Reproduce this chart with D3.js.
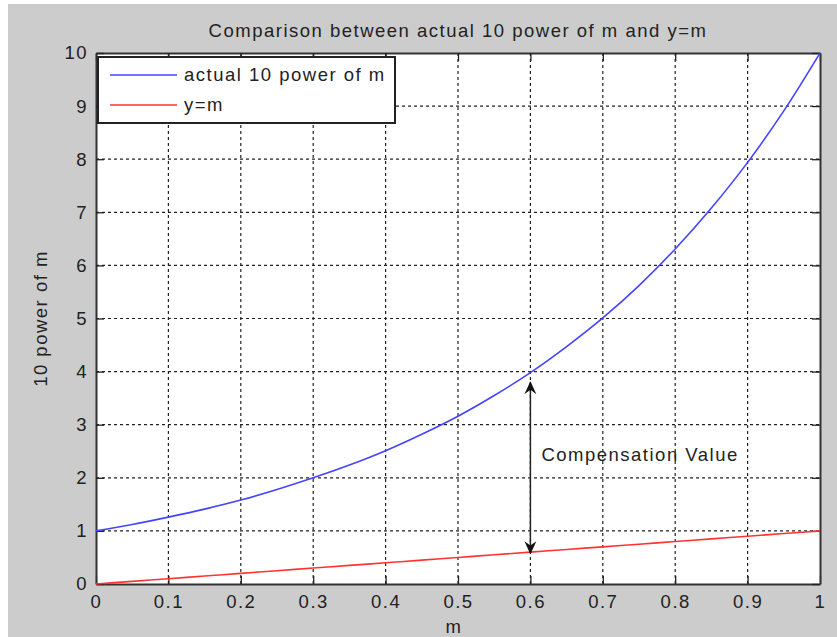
<!DOCTYPE html>
<html>
<head>
<meta charset="utf-8">
<script src="https://cdn.jsdelivr.net/npm/d3@7"></script>
<style>
  body { margin: 0; background: #fff; }
  svg text { font-family: "Liberation Sans", Arial, sans-serif; fill: #222; letter-spacing: 1.5px; }
</style>
</head>
<body>
<div id="chart"></div>
<script>
// values
var mValues = [0, 0.05, 0.1, 0.15, 0.2, 0.25, 0.3, 0.35, 0.4, 0.45, 0.5,
               0.55, 0.6, 0.65, 0.7, 0.75, 0.8, 0.85, 0.9, 0.95, 1.0];
var powerValues = [1.00, 1.12, 1.26, 1.41, 1.58, 1.78, 2.00, 2.24, 2.51, 2.82, 3.16,
                   3.55, 3.98, 4.47, 5.01, 5.62, 6.31, 7.08, 7.94, 8.91, 10.00];
var linearValues = [0, 0.05, 0.1, 0.15, 0.2, 0.25, 0.3, 0.35, 0.4, 0.45, 0.5,
                    0.55, 0.6, 0.65, 0.7, 0.75, 0.8, 0.85, 0.9, 0.95, 1.0];
var xTicks = [0, 0.1, 0.2, 0.3, 0.4, 0.5, 0.6, 0.7, 0.8, 0.9, 1];
var yTicks = [0, 1, 2, 3, 4, 5, 6, 7, 8, 9, 10];
var seriesNames = ["actual 10 power of m", "y=m"];
var arrowM = 0.6, arrowTop = 3.8, arrowBottom = 0.58;

var W = 837, H = 637;
var margin = {top: 53, right: 17, bottom: 53, left: 96};
var fontSize = 18.5;

var svg = d3.select("#chart").append("svg")
    .attr("width", W)
    .attr("height", H);

// figure background (white strip on left/top like the screenshot)
svg.append("rect")
    .attr("x", 8).attr("y", 4)
    .attr("width", W - 8).attr("height", H - 4)
    .attr("fill", "#cccccc");

var x = d3.scaleLinear().domain([0, 1]).range([margin.left, W - margin.right]);
var y = d3.scaleLinear().domain([0, 10]).range([H - margin.bottom, margin.top]);

// plot area
svg.append("rect")
    .attr("x", x(0)).attr("y", y(10))
    .attr("width", x(1) - x(0)).attr("height", y(0) - y(10))
    .attr("fill", "#fff");

// grid
var grid = svg.append("g").attr("stroke", "#222").attr("stroke-width", 1.2)
    .attr("stroke-dasharray", "3,3");
grid.selectAll(".vg").data(xTicks.slice(1, -1)).enter().append("line")
    .attr("x1", function(d){ return x(d); }).attr("x2", function(d){ return x(d); })
    .attr("y1", y(0)).attr("y2", y(10));
grid.selectAll(".hg").data(yTicks.slice(1, -1)).enter().append("line")
    .attr("y1", function(d){ return y(d); }).attr("y2", function(d){ return y(d); })
    .attr("x1", x(0)).attr("x2", x(1));

// axes with inward ticks
var xAxis = svg.append("g")
    .attr("transform", "translate(0," + y(0) + ")")
    .call(d3.axisBottom(x).tickValues(xTicks).tickSizeInner(-8).tickSizeOuter(0).tickPadding(11)
        .tickFormat(function(d){ return d; }));
var xAxisTop = svg.append("g")
    .attr("transform", "translate(0," + y(10) + ")")
    .call(d3.axisTop(x).tickValues(xTicks).tickSizeInner(-8).tickSizeOuter(0).tickFormat(""));
var yAxis = svg.append("g")
    .attr("transform", "translate(" + x(0) + ",0)")
    .call(d3.axisLeft(y).tickValues(yTicks).tickSizeInner(-8).tickSizeOuter(0).tickPadding(8));
var yAxisRight = svg.append("g")
    .attr("transform", "translate(" + x(1) + ",0)")
    .call(d3.axisRight(y).tickValues(yTicks).tickSizeInner(-8).tickSizeOuter(0).tickFormat(""));

svg.selectAll(".domain").attr("stroke", "#333").attr("stroke-width", 2);
svg.selectAll(".tick line").attr("stroke", "#222").attr("stroke-width", 1.3);
svg.selectAll(".tick text")
    .style("font-family", '"Liberation Sans", Arial, sans-serif')
    .style("font-size", fontSize + "px")
    .attr("fill", "#222");
xAxis.selectAll(".tick text").attr("dy", "0.71em");

// lines
var line1 = d3.line()
    .x(function(d, i){ return x(mValues[i]); })
    .y(function(d){ return y(d); })
    .curve(d3.curveMonotoneX);

svg.append("path").datum(powerValues)
    .attr("d", line1).attr("fill", "none")
    .attr("stroke", "#4444ff").attr("stroke-width", 1.6);
svg.append("path").datum(linearValues)
    .attr("d", line1).attr("fill", "none")
    .attr("stroke", "#ff3333").attr("stroke-width", 1.6);

// compensation arrow
var defs = svg.append("defs");
defs.append("marker")
    .attr("id", "head")
    .attr("viewBox", "0 0 12 12")
    .attr("refX", 11).attr("refY", 6)
    .attr("markerWidth", 13).attr("markerHeight", 13)
    .attr("markerUnits", "userSpaceOnUse")
    .attr("orient", "auto-start-reverse")
    .append("path")
    .attr("d", "M0,0.5 L12,6 L0,11.5 L4,6 Z")
    .attr("fill", "#111");

svg.append("line")
    .attr("x1", x(arrowM)).attr("x2", x(arrowM))
    .attr("y1", y(arrowTop)).attr("y2", y(arrowBottom))
    .attr("stroke", "#222").attr("stroke-width", 1.5)
    .attr("marker-start", "url(#head)")
    .attr("marker-end", "url(#head)");

svg.append("text")
    .attr("x", x(arrowM) + 11).attr("y", y(2.35) + 2)
    .style("font-size", fontSize + "px")
    .text("Compensation Value");

// title and labels
svg.append("text")
    .attr("x", (x(0) + x(1)) / 2).attr("y", 37)
    .attr("text-anchor", "middle")
    .style("font-size", fontSize + "px")
    .text("Comparison between actual 10 power of m and y=m");

svg.append("text")
    .attr("x", (x(0) + x(1)) / 2 - 4).attr("y", 633)
    .attr("text-anchor", "middle")
    .style("font-size", fontSize + "px")
    .text("m");

svg.append("text")
    .attr("transform", "translate(47," + ((y(0) + y(10)) / 2) + ") rotate(-90)")
    .attr("text-anchor", "middle")
    .style("font-size", fontSize + "px")
    .text("10 power of m");

// legend
var legend = svg.append("g").attr("transform", "translate(98,57)");
legend.append("rect")
    .attr("width", 297).attr("height", 66)
    .attr("fill", "#fff").attr("stroke", "#222").attr("stroke-width", 2);
var legendColors = ["#4444ff", "#ff3333"];
seriesNames.forEach(function(name, i){
    var ly = 18 + i * 30;
    legend.append("line")
        .attr("x1", 12).attr("x2", 79)
        .attr("y1", ly).attr("y2", ly)
        .attr("stroke", legendColors[i]).attr("stroke-width", 1.6);
    legend.append("text")
        .attr("x", 86).attr("y", ly).attr("dy", "0.35em")
        .style("font-size", fontSize + "px")
        .text(name);
});
</script>
</body>
</html>
